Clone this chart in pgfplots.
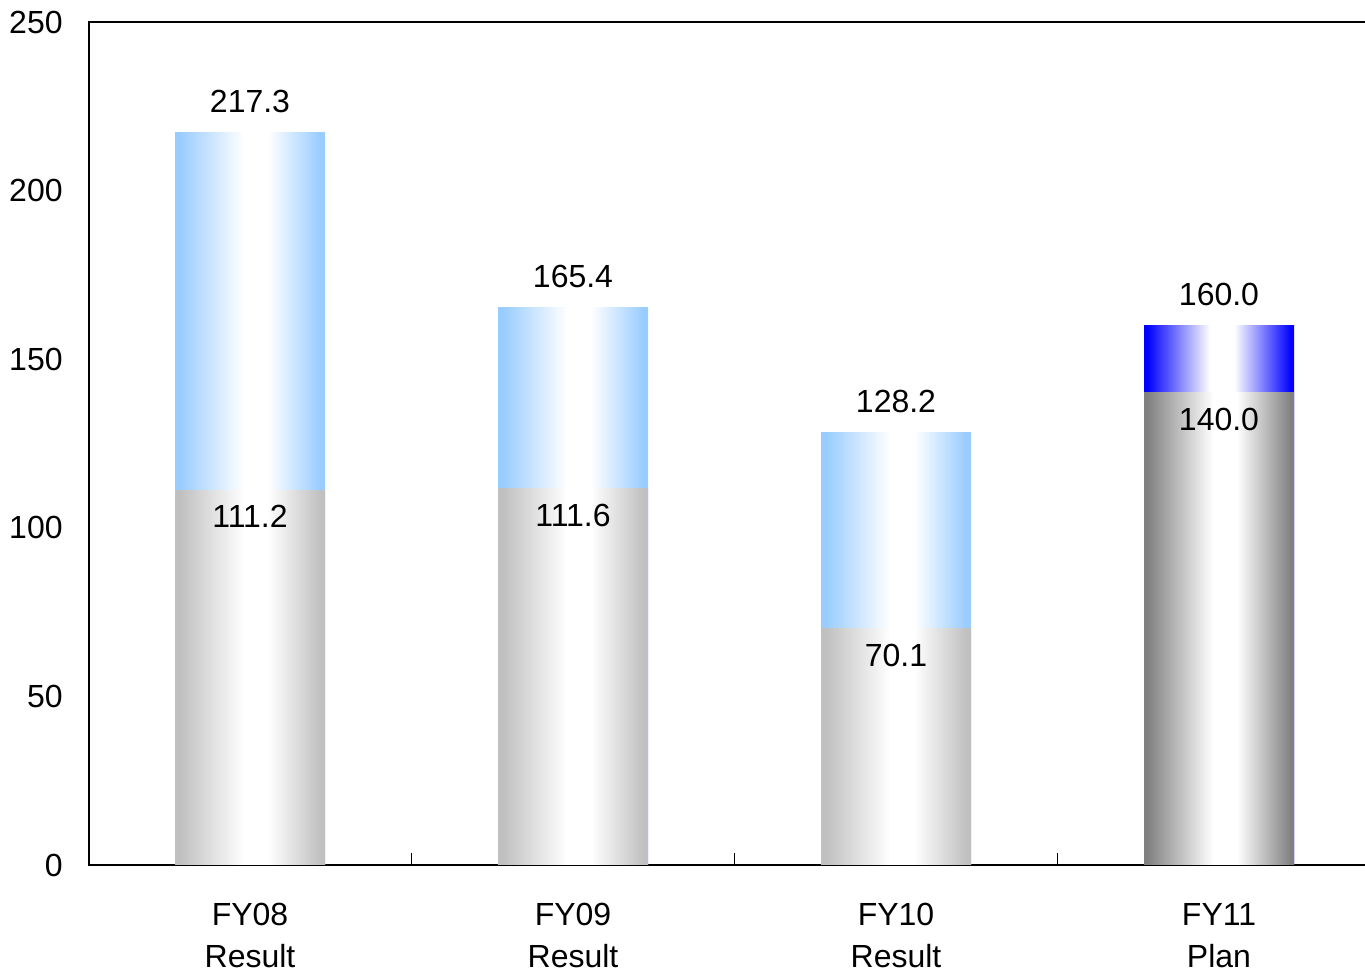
\documentclass[border=0pt]{standalone}
\usepackage{pgfplots}
\pgfplotsset{compat=1.18}
\usepackage{fontspec}
\setmainfont{Liberation Sans}
\definecolor{gedge}{HTML}{C0C0C0}
\definecolor{bedge}{HTML}{99CCFF}
\definecolor{dgedge}{HTML}{808080}
\definecolor{dbedge}{HTML}{0000FF}
\pgfdeclarehorizontalshading{shgrey}{100bp}{color(0bp)=(gedge); color(25bp)=(gedge); color(26.5bp)=(gedge); color(48bp)=(white); color(56bp)=(white); color(73.5bp)=(gedge); color(75bp)=(gedge); color(100bp)=(gedge)}
\pgfdeclarehorizontalshading{shblue}{100bp}{color(0bp)=(bedge); color(25bp)=(bedge); color(26.5bp)=(bedge); color(48bp)=(white); color(56bp)=(white); color(73.5bp)=(bedge); color(75bp)=(bedge); color(100bp)=(bedge)}
\pgfdeclarehorizontalshading{shdgrey}{100bp}{color(0bp)=(dgedge); color(25bp)=(dgedge); color(26bp)=(dgedge); color(48bp)=(white); color(56bp)=(white); color(74bp)=(dgedge); color(75bp)=(dgedge); color(100bp)=(dgedge)}
\pgfdeclarehorizontalshading{shdblue}{100bp}{color(0bp)=(dbedge); color(25bp)=(dbedge); color(26bp)=(dbedge); color(47bp)=(white); color(55bp)=(white); color(74bp)=(dbedge); color(75bp)=(dbedge); color(100bp)=(dbedge)}
\pgfplotsset{
  barb/.style={ybar, bar width=75bp, bar shift=0pt, draw=none, shading=#1},
  toplab/.style={nodes near coords, point meta=explicit symbolic,
    every node near coord/.append style={anchor=south, inner sep=0pt, yshift=9.5bp, text=black}},
  botlab/.style={nodes near coords, point meta=explicit symbolic, nodes near coords align=below,
    every node near coord/.append style={anchor=north, inner sep=0pt, yshift=-7.5bp, text=black}},
}
\begin{document}
\fontsize{16bp}{21bp}\selectfont
\begin{tikzpicture}
\begin{axis}[
  scale only axis, width=646bp, height=421.5bp,
  xmin=-0.5, xmax=3.5, ymin=0, ymax=250,
  enlargelimits=false,
  axis line style={line width=1bp, black},
  ytick={0,50,100,150,200,250},
  ytick style={draw=none},
  yticklabel style={anchor=east, inner sep=0pt, xshift=-12.75bp},
  xtick={0,1,2,3},
  xticklabels={FY08\\Result, FY09\\Result, FY10\\Result, FY11\\Plan},
  xticklabel style={align=center, anchor=north, inner sep=0pt, yshift=-19bp},
  major x tick style={draw=none},
  minor xtick={0.5,1.5,2.5},
  minor tick length=6bp,
  minor x tick style={draw=black, line width=0.6bp},
  xtick pos=left, ytick pos=left,
  /pgf/number format/assume math mode=true,
]
\coordinate (bl) at (rel axis cs:0,0);
\coordinate (tl) at (rel axis cs:0,1);
% totals (upper segments, drawn full height first)
\addplot[barb=shblue, toplab] coordinates {(0,217.3)[217.3]};
\addplot[barb=shblue, toplab] coordinates {(1,165.4)[165.4]};
\addplot[barb=shblue, toplab] coordinates {(2,128.2)[128.2]};
\addplot[barb=shdblue, toplab] coordinates {(3,160.0)[160.0]};
% lower segments
\addplot[barb=shgrey, botlab] coordinates {(0,111.2)[111.2]};
\addplot[barb=shgrey, botlab] coordinates {(1,111.6)[111.6]};
\addplot[barb=shgrey, botlab] coordinates {(2,70.1)[70.1]};
\addplot[barb=shdgrey, botlab] coordinates {(3,140.0)[140.0]};
\end{axis}
\pgfresetboundingbox
\path[use as bounding box] ([xshift=-44.25bp,yshift=-54.5bp]bl) rectangle ([xshift=638.25bp,yshift=11bp]tl);
\end{tikzpicture}
\end{document}
